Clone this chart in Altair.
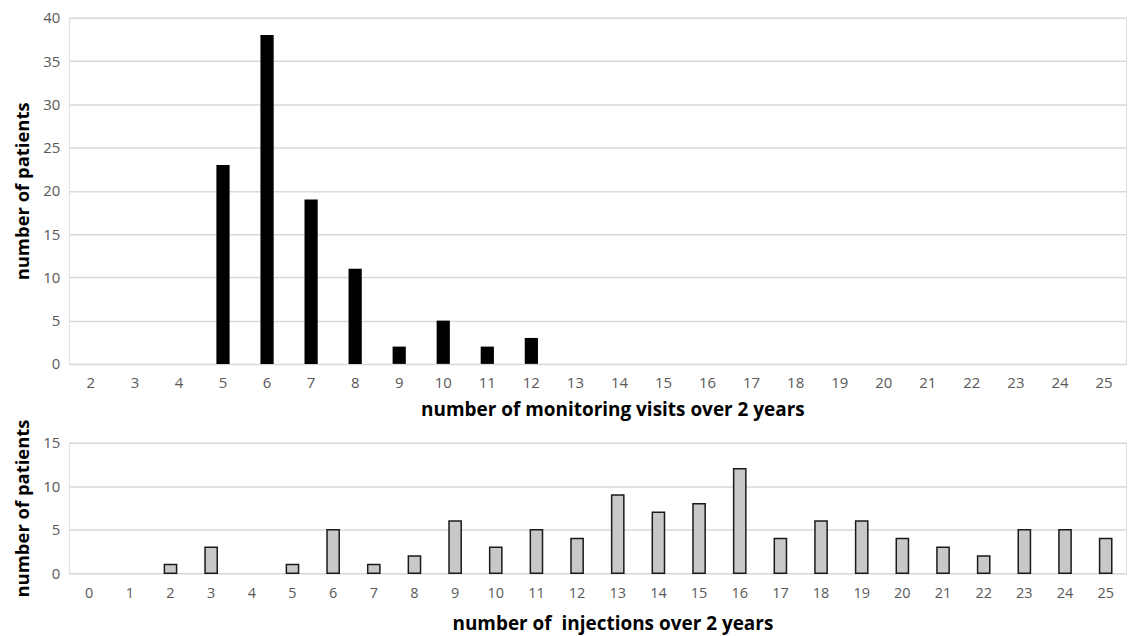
import altair as alt
import pandas as pd

visits_cats = list(range(2, 26))
visits_counts = [0, 0, 0, 23, 38, 19, 11, 2, 5, 2, 3, 0, 0, 0, 0, 0, 0, 0, 0, 0, 0, 0, 0, 0]

inj_cats = list(range(0, 26))
inj_counts = [0, 0, 1, 3, 0, 1, 5, 1, 2, 6, 3, 5, 4, 9, 7, 8, 12, 4, 6, 6, 4, 3, 2, 5, 5, 4]

top_df = pd.DataFrame({"cat": visits_cats, "n": visits_counts})
bot_df = pd.DataFrame({"cat": inj_cats, "n": inj_counts})

FONT = "Open Sans"
GRID = "#d9d9d9"
LBL = "#595959"
W = 1060

top = alt.Chart(top_df).mark_bar(color="#000000").encode(
    x=alt.X("cat:O", sort=visits_cats,
            scale=alt.Scale(domain=visits_cats, paddingInner=0.7, paddingOuter=0.35),
            axis=alt.Axis(title="number of monitoring visits over 2 years", labelAngle=0,
                          domain=False, ticks=False, labelPadding=12, titlePadding=10,
                          labelFontSize=15, labelColor=LBL, labelFont=FONT,
                          titleFont=FONT, titleFontSize=19, titleFontWeight="bold",
                          titleColor="#000000", titleX=545, titleAlign="center")),
    y=alt.Y("n:Q", scale=alt.Scale(domain=[0, 40], nice=False),
            axis=alt.Axis(title="number of patients", values=[0, 5, 10, 15, 20, 25, 30, 35, 40],
                          domain=False, ticks=False, grid=True, gridColor=GRID, gridWidth=1.5,
                          labelPadding=9, titlePadding=10, labelFontSize=15, labelColor=LBL,
                          labelFont=FONT, titleFont=FONT, titleFontSize=18.5,
                          titleFontWeight="bold", titleColor="#000000")),
).transform_filter("datum.n > 0").properties(width=W, height=347)

bottom = alt.Chart(bot_df).mark_bar(color="#c8c8c8", stroke="#1a1a1a", strokeWidth=1.5).encode(
    x=alt.X("cat:O", sort=inj_cats,
            scale=alt.Scale(domain=inj_cats, paddingInner=0.7, paddingOuter=0.35),
            axis=alt.Axis(title="number of\u00a0 injections over 2 years", labelAngle=0,
                          domain=False, ticks=False, labelPadding=13, titlePadding=15,
                          labelFontSize=14.5, labelColor=LBL, labelFont=FONT,
                          titleFont=FONT, titleFontSize=19, titleFontWeight="bold",
                          titleColor="#000000", titleX=545, titleAlign="center")),
    y=alt.Y("n:Q", scale=alt.Scale(domain=[0, 15], nice=False),
            axis=alt.Axis(title="number of patients", values=[0, 5, 10, 15],
                          domain=False, ticks=False, grid=True, gridColor=GRID, gridWidth=1.5,
                          labelPadding=9, titlePadding=10, labelFontSize=15, labelColor=LBL,
                          labelFont=FONT, titleFont=FONT, titleFontSize=18.5,
                          titleFontWeight="bold", titleColor="#000000")),
).transform_filter("datum.n > 0").properties(width=W, height=131)

chart = alt.vconcat(top, bottom, spacing=79).properties(
    bounds="flush",
    padding={"left": 5, "top": 1, "right": 0, "bottom": 0},
).configure_view(stroke=None).configure(background="white")

chart.save("out.html", embed_options={"renderer": "svg", "actions": False})
